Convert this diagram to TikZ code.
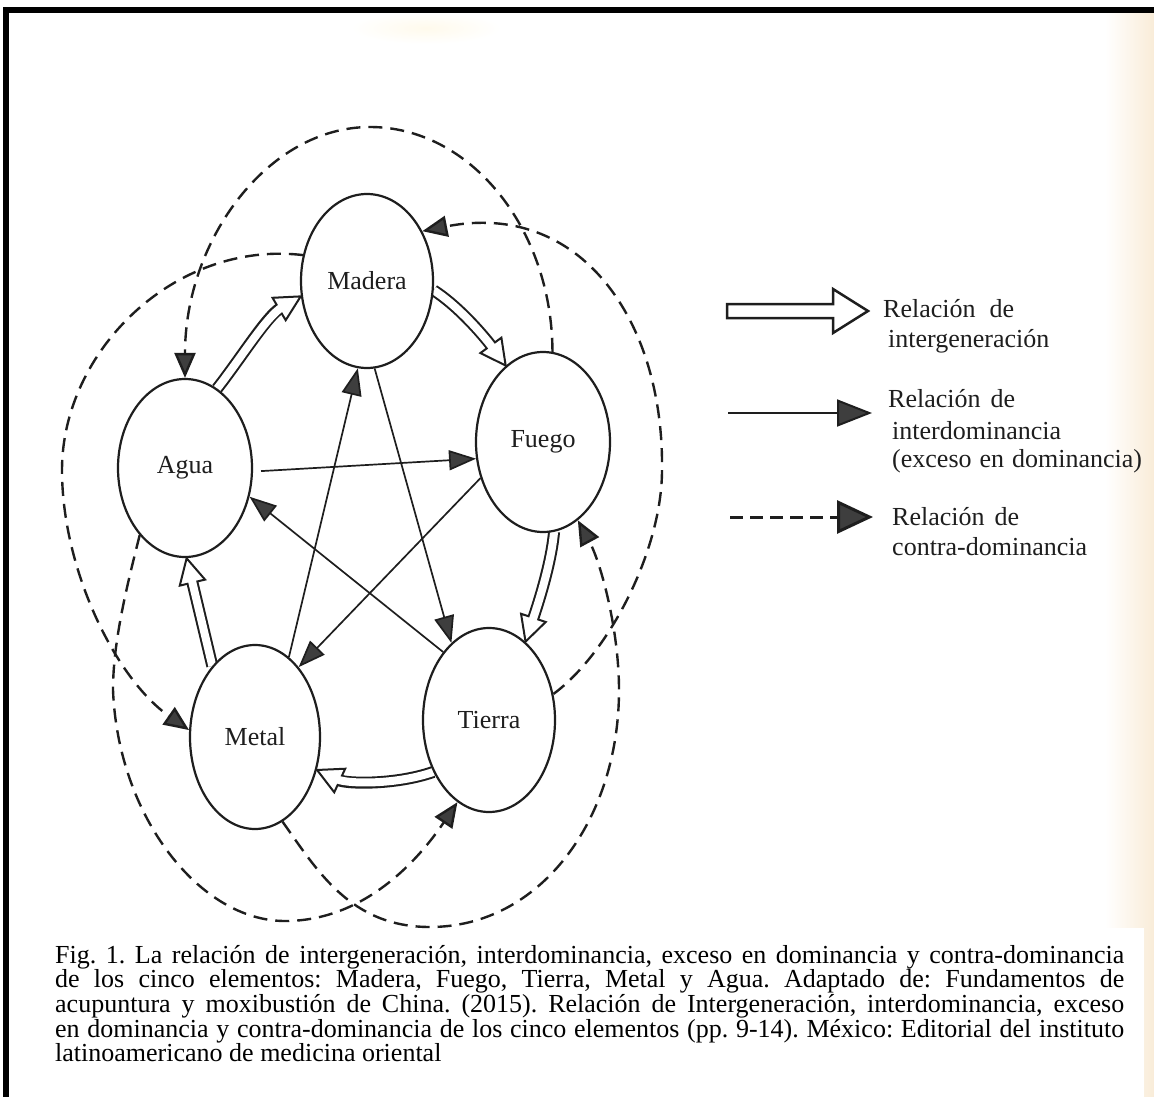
\documentclass[tikz,border=0pt]{standalone}
\usepackage{fontspec}
\setmainfont{Liberation Serif}
\usetikzlibrary{arrows.meta,shapes.geometric,decorations.markings}
\definecolor{ink}{RGB}{30,30,30}
\definecolor{headgray}{RGB}{62,62,62}
\definecolor{paper}{RGB}{249,236,216}
\definecolor{tint}{RGB}{255,250,236}
\pgfdeclarelayer{bglayer}
\pgfdeclarelayer{connlayer}
\pgfsetlayers{bglayer,connlayer,main}
\tikzset{
  elem/.style={ellipse, draw=ink, line width=2.2pt, fill=white, inner sep=0pt,
    font=\fontsize{26}{30}\selectfont, text=ink},
  dom/.style={draw=ink, line width=1.7pt, -{Triangle[length=27pt,width=20pt,fill=headgray]}},
  contra/.style={draw=ink, line width=2.4pt, dash pattern=on 14pt off 8pt,
    -{Triangle[length=25pt,width=21pt,fill=headgray]}},
  hshaft/.style={draw=ink, line width=12pt, shorten >=24pt},
  hinner/.style={draw=white, line width=8pt, shorten >=22pt},
  hhead/.style={draw=ink, fill=white, line width=2pt, line join=miter},
  legtext/.style={anchor=base west, inner sep=0pt, font=\fontsize{26}{30}\selectfont, text=ink},
}
\newcommand\hollowarrow[1]{%
  \draw[hshaft] #1;
  \path[decorate, decoration={markings, mark=at position 0.998 with {\draw[hhead] (0pt,0pt) -- (-25pt,13pt) -- (-25pt,-13pt) -- cycle;}}] #1;
  \draw[hinner] #1;
}
\begin{document}
\begin{tikzpicture}[x=1pt,y=-1pt]
\useasboundingbox (0,0) rectangle (1154,1097);
\begin{pgfonlayer}{bglayer}
  \fill[white] (0,0) rectangle (1154,1097);
  \shade[left color=white, right color=paper] (1105,13) rectangle (1154,1097);
  \shade[inner color=tint, outer color=white] (426,28) ellipse (75pt and 16pt);
  \fill[white] (9,928) rectangle (1144,1097);
  \fill[black] (3,7) rectangle (1154,13);
  \fill[black] (3,7) rectangle (9,1097);
\end{pgfonlayer}

% elements
\node[elem, minimum width=132pt, minimum height=174pt] (mad) at (367,281) {Madera};
\node[elem, minimum width=134pt, minimum height=180pt] (fue) at (543,442) {Fuego};
\node[elem, minimum width=134pt, minimum height=178pt] (agua) at (185,468) {Agua};
\node[elem, minimum width=130pt, minimum height=184pt] (met) at (255,737) {Metal};
\node[elem, minimum width=132pt, minimum height=184pt] (tie) at (489,720) {Tierra};

\begin{pgfonlayer}{connlayer}
  % intergeneracion
  \hollowarrow{(agua.68) .. controls (241,358) and (267,316) .. (mad.193)}
  \hollowarrow{(mad.-8) .. controls (461,308) and (487,340) .. (fue.116)}
  \hollowarrow{(fue.-83) .. controls (551,566) and (536,610) .. (tie.65)}
  \hollowarrow{(tie.223) .. controls (396,785) and (347,784) .. (met.-28)}
  \hollowarrow{(met.121) -- (agua.-89)}
  % interdominancia
  \draw[dom, shorten <=8pt] (agua.-3) -- (fue.194);
  \draw[dom] (fue.210) -- (met.58);
  \draw[dom] (met.67) -- (mad.264);
  \draw[dom] (mad.275) -- (tie.116);
  \draw[dom] (tie.124) -- (agua.-24);
  % contra-dominancia
  \draw[contra] (mad.158) .. controls (175,240) and (62,351) .. (62,470)
     .. controls (62,570) and (116,679) .. (met.174);
  \draw[contra] (fue.84) .. controls (552,228) and (470,127) .. (370,127)
     .. controls (268,127) and (185,240) .. (agua.90);
  \draw[contra] (tie.22) .. controls (609,653) and (662,550) .. (662,470)
     .. controls (664,320) and (580,200) .. (mad.42);
  \draw[contra] (met.-72) .. controls (317,870) and (350,927) .. (430,927)
     .. controls (540,927) and (619,820) .. (619,690)
     .. controls (619,630) and (601,563) .. (fue.-66);
  \draw[contra] (agua.236) .. controls (128,582) and (113,640) .. (113,690)
     .. controls (118,817) and (200,921) .. (285,921)
     .. controls (365,921) and (419,859) .. (tie.249);
\end{pgfonlayer}

% legend
\coordinate (la1) at (727,311);
\coordinate (la2) at (868,311);
\draw[ink, line width=2.5pt, line join=miter, fill=white]
  (727,304) -- (833,304) -- (833,289) -- (la2) -- (833,333) -- (833,318) -- (727,318) -- cycle;
\node[legtext] (t1a) at (883,317) {Relación\hspace{14pt}de};
\node[legtext] (t1b) at (888,347) {intergeneración};

\coordinate (lb1) at (728,413);
\coordinate (lb2) at (872,413);
\draw[ink, line width=2pt, -{Triangle[length=35pt,width=27pt,fill=headgray]}] (lb1) -- (lb2);
\node[legtext] (t2a) at (888,407) {Relación\hspace{10pt}de};
\node[legtext] (t2b) at (892,439) {interdominancia};
\node[legtext] (t2c) at (892,467) {(exceso\hspace{8pt}en\hspace{8pt}dominancia)};

\coordinate (lc1) at (730,517);
\coordinate (lc2) at (873,517);
\draw[ink, line width=3pt, dash pattern=on 13pt off 7pt, -{Triangle[length=36pt,width=33pt,fill=headgray]}] (lc1) -- (lc2);
\node[legtext] (t3a) at (892,525) {Relación\hspace{10pt}de};
\node[legtext] (t3b) at (892,555) {contra-dominancia};

% caption
\node[anchor=base west, inner sep=0pt, text=black] (cap) at (55,963) {\parbox[t]{1069pt}{\fontsize{26}{24.7}\selectfont\frenchspacing\tolerance=10000\hyphenpenalty=10000\exhyphenpenalty=10000\lineskiplimit=-100pt
Fig. 1. La relación de intergeneración, interdominancia, exceso en dominancia y contra-dominancia\linebreak
de los cinco elementos: Madera, Fuego, Tierra, Metal y Agua. Adaptado de: Fundamentos de\linebreak
acupuntura y moxibustión de China. (2015). Relación de Intergeneración, interdominancia, exceso\linebreak
en dominancia y contra-dominancia de los cinco elementos (pp. 9-14). México: Editorial del instituto\linebreak
latinoamericano de medicina oriental}};
\end{tikzpicture}
\end{document}
